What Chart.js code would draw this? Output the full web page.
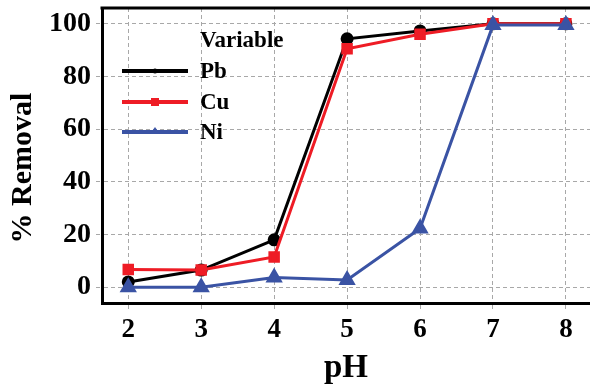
<!DOCTYPE html>
<html>
<head>
<meta charset="utf-8">
<script src="https://cdn.jsdelivr.net/npm/chart.js@4.4.0/dist/chart.umd.min.js"></script>
<style>
  html, body { margin: 0; padding: 0; background: #fff; }
  #wrap { width: 590px; height: 387px; }
</style>
</head>
<body>
<div id="wrap"><canvas id="myChart" width="590" height="387"></canvas></div>
<script>
const phValues = [2, 3, 4, 5, 6, 7, 8];
const pbRemoval = [2, 6.5, 18, 94.3, 97.3, 100, 100];
const cuRemoval = [6.7, 6.5, 11.5, 90.5, 96, 100, 100];
const niRemoval = [0, 0, 3.7, 2.7, 22.3, 99.5, 99.5];
const yTicks = [0, 20, 40, 60, 80, 100];
const legendTitle = 'Variable';
const serif = "'Liberation Serif', 'Times New Roman', serif";

const toPoints = (vals) => vals.map((v, i) => ({ x: phValues[i], y: v }));

// legend drawn inside plot area, line + marker like the original
const insideLegend = {
  id: 'insideLegend',
  afterDraw(chart) {
    const ctx = chart.ctx;
    const a = chart.chartArea;
    ctx.save();
    // top frame line
    ctx.strokeStyle = '#000';
    ctx.lineWidth = 3;
    ctx.beginPath();
    ctx.moveTo(a.left - 1.5, a.top);
    ctx.lineTo(a.right, a.top);
    ctx.stroke();

    ctx.fillStyle = '#000';
    ctx.font = 'bold 23px ' + serif;
    ctx.textBaseline = 'alphabetic';
    ctx.textAlign = 'left';
    ctx.fillText(legendTitle, 200, 47);
    const rows = [71, 102, 132];
    chart.data.datasets.forEach((ds, i) => {
      const y = rows[i];
      ctx.strokeStyle = ds.borderColor;
      ctx.lineWidth = 4;
      ctx.beginPath();
      ctx.moveTo(122, y);
      ctx.lineTo(188, y);
      ctx.stroke();
      ctx.fillStyle = ds.borderColor;
      if (ds.pointStyle === 'rect') {
        ctx.fillRect(151, y - 4, 8, 8);
      } else if (ds.pointStyle === 'triangle') {
        ctx.beginPath();
        ctx.moveTo(155, y - 5);
        ctx.lineTo(160, y + 2);
        ctx.lineTo(150, y + 2);
        ctx.closePath();
        ctx.fill();
      } else {
        ctx.beginPath();
        ctx.arc(155, y, 2.5, 0, Math.PI * 2);
        ctx.fill();
      }
      ctx.fillStyle = '#000';
      ctx.fillText(ds.label, 200, y + 7);
    });

    // y axis title
    ctx.translate(23, 168);
    ctx.rotate(-Math.PI / 2);
    ctx.textAlign = 'center';
    ctx.textBaseline = 'middle';
    ctx.font = 'bold 30px ' + serif;
    ctx.fillText('% Removal', 0, 0);
    ctx.restore();
  }
};

const gridStyle = {
  color: '#a8a8a8',
  lineWidth: 1,
  tickBorderDash: [4, 3],
  tickLength: 6,
};

const ctx = document.getElementById('myChart').getContext('2d');
const myChart = new Chart(ctx, {
  type: 'line',
  data: {
    datasets: [
      {
        label: 'Pb',
        data: toPoints(pbRemoval),
        borderColor: '#000000',
        backgroundColor: '#000000',
        borderWidth: 3,
        pointStyle: 'circle',
        pointRadius: 5,
        order: 2,
      },
      {
        label: 'Cu',
        data: toPoints(cuRemoval),
        borderColor: '#ee1c25',
        backgroundColor: '#ee1c25',
        borderWidth: 3,
        pointStyle: 'rect',
        pointRadius: 6,
        order: 1,
      },
      {
        label: 'Ni',
        data: toPoints(niRemoval),
        borderColor: '#3a53a4',
        backgroundColor: '#3a53a4',
        borderWidth: 3,
        pointStyle: 'triangle',
        pointRadius: 7,
        order: 0,
      },
    ],
  },
  options: {
    responsive: false,
    animation: false,
    layout: { autoPadding: false, padding: { top: 8, right: 0, left: 0, bottom: 0 } },
    plugins: {
      legend: { display: false },
      tooltip: { enabled: false },
    },
    scales: {
      x: {
        type: 'linear',
        min: 1.64,
        max: 8.33,
        afterFit: (s) => { s.height = 84; s.paddingLeft = 0; s.paddingRight = 0; },
        ticks: {
          stepSize: 1,
          includeBounds: false,
          color: '#000',
          padding: 5,
          font: { family: serif, size: 27, weight: 'bold' },
        },
        grid: gridStyle,
        border: { color: '#000', width: 3, dash: [4, 3] },
        title: {
          display: true,
          text: 'pH',
          color: '#000',
          padding: { top: 0, bottom: -1 },
          font: { family: serif, size: 33, weight: 'bold', lineHeight: 1.2 },
        },
      },
      y: {
        min: -6,
        max: 106,
        afterFit: (s) => { s.width = 102; s.paddingTop = 0; s.paddingBottom = 0; },
        afterBuildTicks: (s) => { s.ticks = yTicks.map((v) => ({ value: v })); },
        ticks: {
          color: '#000',
          padding: 5,
          font: { family: serif, size: 28, weight: 'bold' },
        },
        grid: gridStyle,
        border: { color: '#000', width: 3, dash: [4, 3] },
      },
    },
  },
  plugins: [insideLegend],
});
</script>
</body>
</html>
